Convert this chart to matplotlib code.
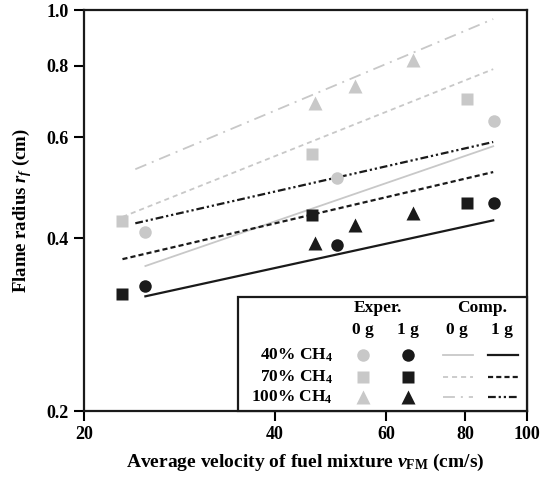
import matplotlib
matplotlib.use("Agg")
import matplotlib.pyplot as plt
from matplotlib.patches import Rectangle

plt.rcParams['font.family'] = ['Liberation Serif', 'DejaVu Serif']
plt.rcParams['font.weight'] = 'bold'
plt.rcParams['axes.labelweight'] = 'bold'
plt.rcParams['mathtext.fontset'] = 'custom'
plt.rcParams['mathtext.rm'] = 'Liberation Serif:bold'
plt.rcParams['mathtext.it'] = 'Liberation Serif:italic:bold'
plt.rcParams['mathtext.bf'] = 'Liberation Serif:bold'

GRAY = '#c8c8c8'
BLACK = '#1a1a1a'

# experimental data (velocity cm/s, flame radius cm)
v40 = [25.0, 50.1, 88.7]
r40_0g = [0.410, 0.510, 0.640]
r40_1g = [0.330, 0.389, 0.461]

v70 = [23.0, 45.8, 80.4]
r70_0g = [0.429, 0.561, 0.700]
r70_1g = [0.320, 0.439, 0.461]

v100 = [46.3, 53.5, 66.1]
r100_0g = [0.689, 0.737, 0.818]
r100_1g = [0.393, 0.422, 0.443]

# computed lines (end points on log-log axes)
cv40 = [25.0, 88.5]
c40_0g = [0.358, 0.579]
c40_1g = [0.317, 0.430]
cv70 = [23.0, 88.5]
c70_0g = [0.436, 0.789]
c70_1g = [0.368, 0.522]
cv100 = [24.1, 88.5]
c100_0g = [0.528, 0.965]
c100_1g = [0.425, 0.589]

xticks = [20, 40, 60, 80, 100]
yticks = [0.2, 0.4, 0.6, 0.8, 1.0]

fig = plt.figure(figsize=(5.42, 4.83), dpi=100)
ax = fig.add_axes([0.155, 0.149, 0.817, 0.830])
ax.set_xscale('log')
ax.set_yscale('log')
ax.set_xlim(20, 100)
ax.set_ylim(0.2, 1.0)

ls_gdash = (0, (2.8, 2.2))
ls_bdash = (0, (2.3, 1.4))
ls_dashdot = (0, (6.6, 3.3, 1.1, 3.3))
ls_dashdotdot = (0, (3.5, 1.3, 1.0, 1.3, 1.0, 1.3))

# computed lines
ax.plot(cv40, c40_0g, color=GRAY, lw=1.3, ls='-')
ax.plot(cv40, c40_1g, color=BLACK, lw=1.6, ls='-')
ax.plot(cv70, c70_0g, color=GRAY, lw=1.3, ls=ls_gdash)
ax.plot(cv70, c70_1g, color=BLACK, lw=1.6, ls=ls_bdash)
ax.plot(cv100, c100_0g, color=GRAY, lw=1.3, ls=ls_dashdot)
ax.plot(cv100, c100_1g, color=BLACK, lw=1.6, ls=ls_dashdotdot)

# experimental markers
ax.plot(v40, r40_0g, 'o', color=GRAY, ms=9, mec='none')
ax.plot(v40, r40_1g, 'o', color=BLACK, ms=9, mec='none')
ax.plot(v70, r70_0g, 's', color=GRAY, ms=8, mec='none')
ax.plot(v70, r70_1g, 's', color=BLACK, ms=8, mec='none')
ax.plot(v100, r100_0g, '^', color=GRAY, ms=10, mec='none')
ax.plot(v100, r100_1g, '^', color=BLACK, ms=10, mec='none')

ax.xaxis.set_minor_locator(matplotlib.ticker.NullLocator())
ax.yaxis.set_minor_locator(matplotlib.ticker.NullLocator())
ax.set_xticks(xticks)
ax.set_xticklabels([str(t) for t in xticks])
ax.set_yticks(yticks)
ax.set_yticklabels(['%.1f' % t for t in yticks])
ax.tick_params(direction='out', length=7, width=1.5, labelsize=13, pad=4)
for s in ax.spines.values():
    s.set_linewidth(1.6)
    s.set_color(BLACK)

ax.set_xlabel(r'Average velocity of fuel mixture $v_{\mathrm{FM}}$ (cm/s)',
              fontsize=14, fontweight='bold', labelpad=6)
ax.set_ylabel(r'Flame radius $r_f$ (cm)', fontsize=13.5, fontweight='bold', labelpad=9)

# hand-built legend table
T = ax.transAxes
ax.add_patch(Rectangle((0.3476, 0.0), 0.6524, 0.2843, transform=T, facecolor='white',
                       edgecolor=BLACK, lw=1.6, zorder=5, clip_on=False))
kw = dict(transform=T, fontsize=12.5, zorder=6, va='center')
ax.text(0.664, 0.257, 'Exper.', ha='center', **kw)
ax.text(0.898, 0.257, 'Comp.', ha='center', **kw)
ax.text(0.630, 0.202, '0 g', ha='center', **kw)
ax.text(0.731, 0.202, '1 g', ha='center', **kw)
ax.text(0.842, 0.202, '0 g', ha='center', **kw)
ax.text(0.944, 0.202, '1 g', ha='center', **kw)

rows_y = [0.140, 0.085, 0.035]
labels = ['40% CH$_4$', '70% CH$_4$', '100% CH$_4$']
markers = [('o', 9), ('s', 8), ('^', 10)]
gray_ls = ['-', ls_gdash, ls_dashdot]
black_ls = ['-', ls_bdash, ls_dashdotdot]
for y, lab, (m, ms), gl, bl in zip(rows_y, labels, markers, gray_ls, black_ls):
    ax.text(0.562, y, lab, ha='right', **kw)
    ax.plot([0.630], [y], m, color=GRAY, ms=ms, mec='none', transform=T, zorder=6, clip_on=False)
    ax.plot([0.731], [y], m, color=BLACK, ms=ms, mec='none', transform=T, zorder=6, clip_on=False)
    ax.plot([0.810, 0.878], [y, y], color=GRAY, lw=1.3, ls=gl, transform=T, zorder=6, clip_on=False)
    ax.plot([0.912, 0.980], [y, y], color=BLACK, lw=1.6, ls=bl, transform=T, zorder=6, clip_on=False)

fig.savefig('out.png', dpi=100)
